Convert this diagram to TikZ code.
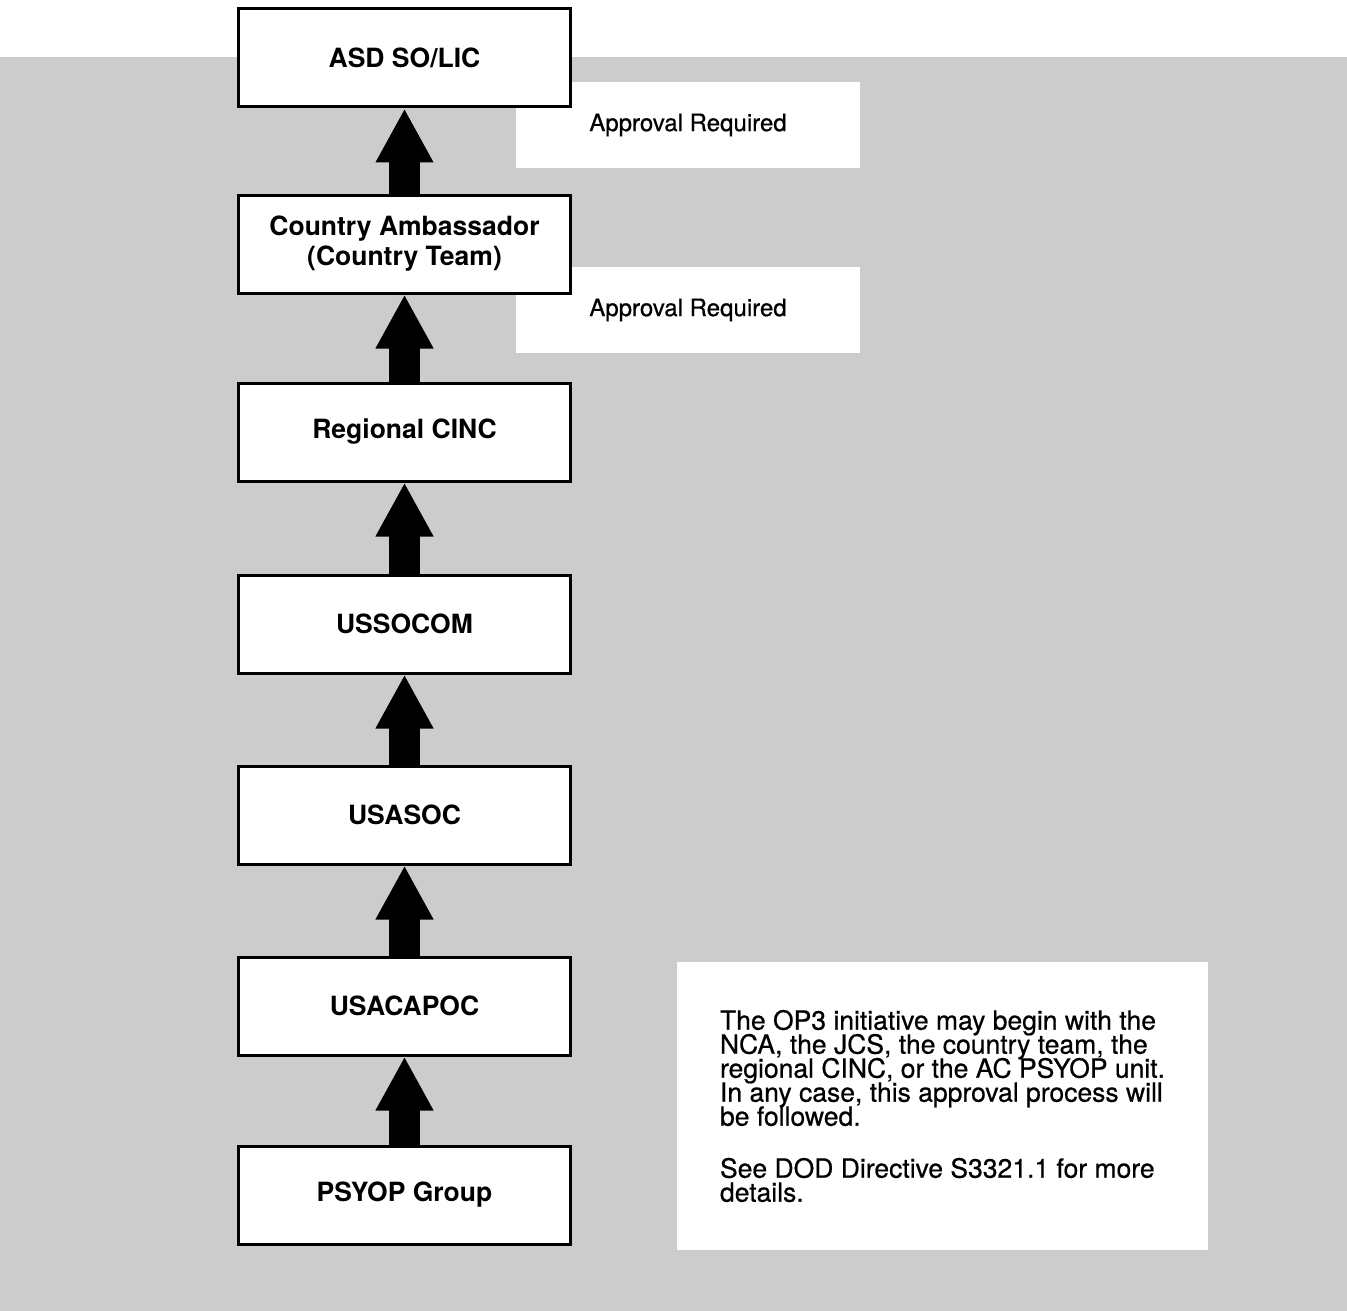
\documentclass[tikz,border=0pt]{standalone}
\usepackage{fontspec}
\setmainfont{TeX Gyre Heros}
\usepackage{tikz}
\usetikzlibrary{arrows.meta, positioning}
\definecolor{screen}{gray}{0.80}
\newcommand{\tightlines}{\lineskiplimit=-100pt\relax}

\begin{document}
\begin{tikzpicture}[x=1pt, y=1pt, node distance=190pt]
    \tikzstyle{entity} = [rectangle, draw, line width=3pt, fill=white, minimum width=332pt, minimum height=98pt, align=center, font={\fontsize{26.5}{30}\selectfont\bfseries}]
    \tikzstyle{note} = [rectangle, fill=white, minimum width=344pt, minimum height=86pt, font={\fontsize{24}{28}\selectfont\addfontfeatures{FakeBold=0.6}}]
    \tikzstyle{remark} = [rectangle, fill=white, minimum width=531pt, minimum height=288pt, align=left, font={\fontsize{26.5}{24}\selectfont\addfontfeatures{FakeBold=0.6}\tightlines}]
    \tikzstyle{line} = [draw, line width=31pt, -{Triangle[length=54pt, width=54pt]}]

    \useasboundingbox (0,0) rectangle (1347,-1311);
    \fill [screen] (0,-57) rectangle (1347,-1311);

    % white patches behind the labels
    \node [note] (ok1) at (688,-125) {Approval Required};
    \node [note] (ok2) at (688,-310) {Approval Required};
    \node [remark] (remark) at (942.5,-1106) {The OP3 initiative may begin with the\\NCA, the JCS, the country team, the\\regional CINC, or the AC PSYOP unit.\\In any case, this approval process will\\be followed.\\[28pt]See DOD Directive S3321.1 for more\\details.};

    \node [entity] (asd) at (404.5,-58) {ASD SO/LIC};
    \node [entity, below of=asd, node distance=186pt] (amb) {Country Ambassador\\(Country Team)};
    \node [entity, below of=amb, node distance=188pt] (cinc) {Regional CINC};
    \node [entity, below of=cinc, node distance=192pt] (socom) {USSOCOM};
    \node [entity, below of=socom, node distance=191pt] (asoc) {USASOC};
    \node [entity, below of=asoc, node distance=191pt] (capoc) {USACAPOC};
    \node [entity, below of=capoc, node distance=189pt] (psyop) {PSYOP Group};

    \path [line] (amb) -- (asd);
    \path [line] (cinc) -- (amb);
    \path [line] (socom) -- (cinc);
    \path [line] (asoc) -- (socom);
    \path [line] (capoc) -- (asoc);
    \path [line] (psyop) -- (capoc);
\end{tikzpicture}
\end{document}
